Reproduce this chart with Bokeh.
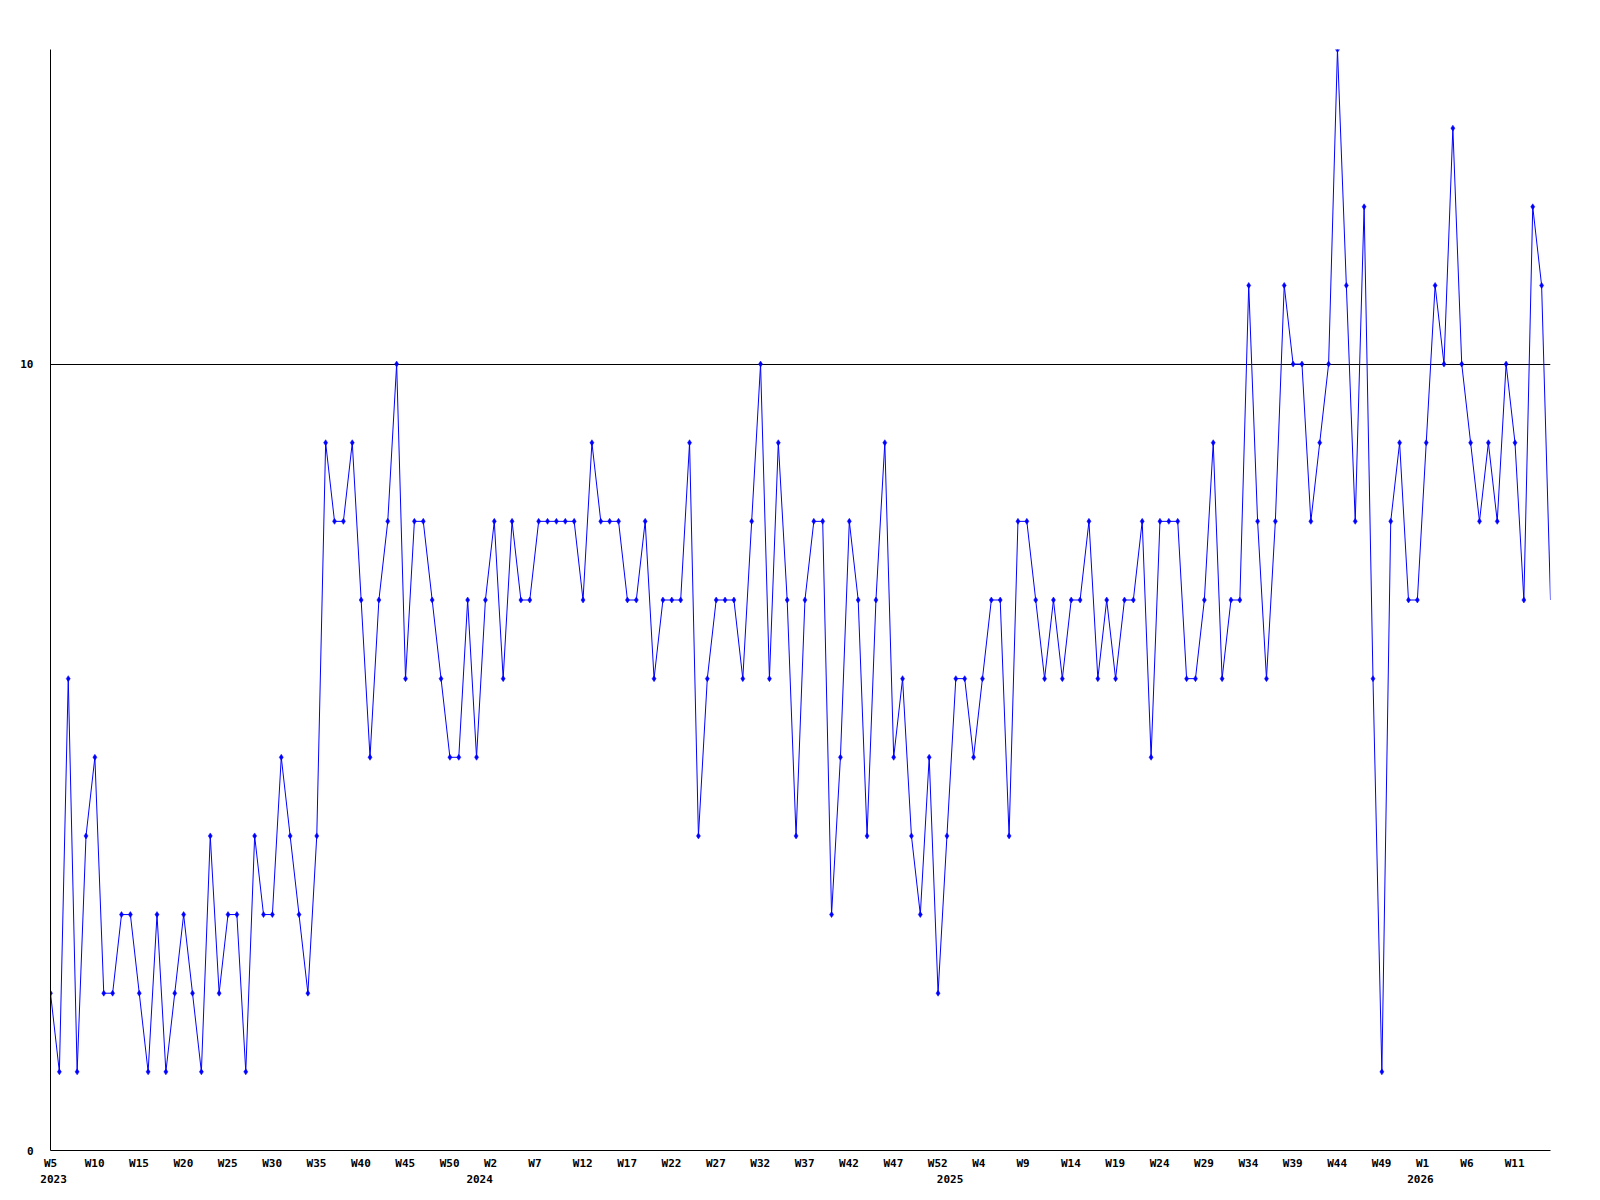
from bokeh.plotting import figure
from bokeh.models import Range1d, FixedTicker, LinearAxis, ColumnDataSource
from bokeh.embed import file_html
from bokeh.resources import INLINE

# ---- data -------------------------------------------------------------
weeks_2023 = list(range(5, 53))   # W5 .. W52
weeks_2024 = list(range(0, 53))   # W0 .. W52
weeks_2025 = list(range(0, 53))   # W0 .. W52
weeks_2026 = list(range(0, 16))   # W0 .. W15
years = [2023, 2024, 2025, 2026]
year_weeks = [weeks_2023, weeks_2024, weeks_2025, weeks_2026]

values = [
    2, 1, 6, 1, 4, 5, 2, 2, 3, 3, 2, 1, 3, 1, 2, 3, 2, 1, 4, 2, 3, 3,
    1, 4, 3, 3, 5, 4, 3, 2, 4, 9, 8, 8, 9, 7, 5, 7, 8, 10, 6, 8, 8,
    7, 6, 5, 5, 7, 5, 7, 8, 6, 8, 7, 7, 8, 8, 8, 8, 8, 7, 9, 8, 8, 8,
    7, 7, 8, 6, 7, 7, 7, 9, 4, 6, 7, 7, 7, 6, 8, 10, 6, 9, 7, 4, 7,
    8, 8, 3, 5, 8, 7, 4, 7, 9, 5, 6, 4, 3, 5, 2, 4, 6, 6, 5, 6, 7, 7,
    4, 8, 8, 7, 6, 7, 6, 7, 7, 8, 6, 7, 6, 7, 7, 8, 5, 8, 8, 8, 6,
    6, 7, 9, 6, 7, 7, 11, 8, 6, 8, 11, 10, 10, 8, 9, 10, 14, 11, 8, 12,
    6,
    1, 8, 9, 7, 7, 9, 11, 10, 13, 10, 9, 8, 9, 8, 10, 9, 7, 12, 11, 7,
]
y_ticks = [0, 10]
y_max = 14
label_every = 5

# ---- derived ----------------------------------------------------------
week_labels = []
year_starts = []
for yr, wk in zip(years, year_weeks):
    year_starts.append(len(week_labels))
    week_labels += ["W%d" % w for w in wk]

n = len(values)
xs = list(range(n))

FRAME_W, FRAME_H = 1500, 1101
BL, BT, BB, BR = 50, 49, 48, 42
px_per_unit = FRAME_W / (n - 1)
CHAR_W = 6.8
LEFT_OFF = 10.5  # labels are left-aligned about 10.5px left of the point


def shifted(i, text):
    # centre of a left-aligned label, expressed in data units (kept in range)
    return max(0.0, i + (len(text) * CHAR_W / 2 - LEFT_OFF) / px_per_unit)


p = figure(width=BL + FRAME_W + BR, height=BT + FRAME_H + BB,
           output_backend="svg", toolbar_location=None,
           x_range=Range1d(0, n - 1), y_range=Range1d(0, y_max),
           min_border_left=BL, min_border_right=BR,
           min_border_top=BT, min_border_bottom=BB)
p.outline_line_color = None
p.background_fill_color = "white"
p.border_fill_color = "white"

src = ColumnDataSource(dict(x=xs, y=values))
p.line("x", "y", source=src, line_color="#0000ff", line_width=1)
msrc = ColumnDataSource(dict(x=xs[:-1], y=values[:-1]))
p.scatter("x", "y", source=msrc, marker="diamond", size=6,
          fill_color="#0000ff", line_color="#0000ff", line_width=0.5)

FONT = "DejaVu Sans Mono"

# grid
p.xgrid.visible = False
p.ygrid.ticker = FixedTicker(ticks=[t for t in y_ticks if t > 0])
p.ygrid.grid_line_color = "black"
p.ygrid.grid_line_width = 1
p.ygrid.grid_line_alpha = 1

# y axis
ya = p.yaxis[0]
ya.ticker = FixedTicker(ticks=y_ticks)
ya.major_tick_line_color = None
ya.minor_tick_line_color = None
ya.major_tick_in = 0
ya.major_tick_out = 0
ya.major_label_standoff = 17
ya.axis_line_color = "black"
ya.major_label_text_font = FONT
ya.major_label_text_font_style = "bold"
ya.major_label_text_font_size = "11px"
ya.major_label_text_color = "black"

# x axis: week labels
tick_pos = []
overrides = {}
for i in range(0, n, label_every):
    t = week_labels[i]
    pos = shifted(i, t)
    tick_pos.append(pos)
    overrides[pos] = t

xa = p.xaxis[0]
xa.ticker = FixedTicker(ticks=tick_pos)
xa.major_label_overrides = overrides
xa.major_tick_line_color = None
xa.minor_tick_line_color = None
xa.major_tick_in = 0
xa.major_tick_out = 0
xa.major_label_standoff = 6
xa.axis_line_color = "black"
xa.major_label_text_font = FONT
xa.major_label_text_font_style = "bold"
xa.major_label_text_font_size = "11px"
xa.major_label_text_color = "black"

# second x axis: year labels
ypos = []
yover = {}
for yr, s in zip(years, year_starts):
    t = str(yr)
    pos = shifted(s, t)
    ypos.append(pos)
    yover[pos] = t

ya2 = LinearAxis(ticker=FixedTicker(ticks=ypos), major_label_overrides=yover)
ya2.axis_line_color = None
ya2.major_tick_line_color = None
ya2.minor_tick_line_color = None
ya2.major_tick_in = 0
ya2.major_tick_out = 0
ya2.major_label_standoff = 2
ya2.major_label_text_font = FONT
ya2.major_label_text_font_style = "bold"
ya2.major_label_text_font_size = "11px"
ya2.major_label_text_color = "black"
p.add_layout(ya2, "below")

open("out.html", "w").write(file_html(p, INLINE))
